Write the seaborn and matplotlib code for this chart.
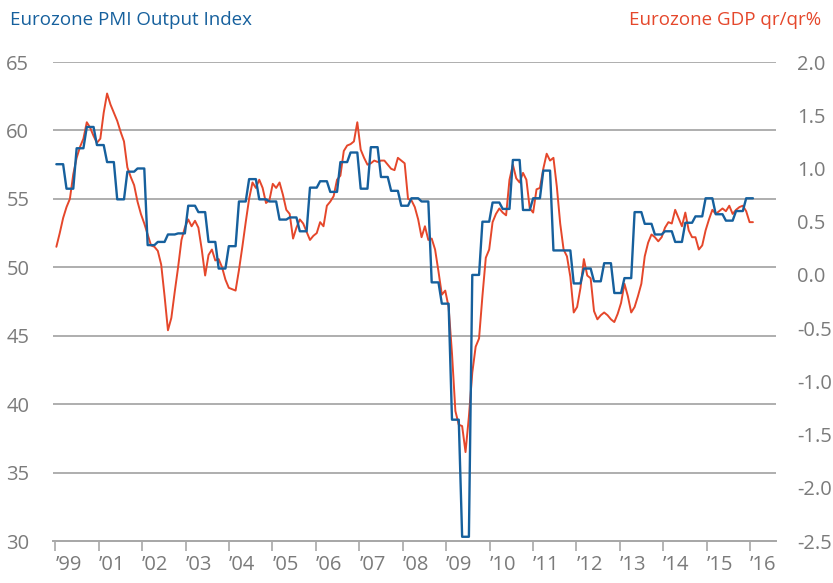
"""Eurozone PMI output index vs GDP q/q growth, 1999-2016."""

import matplotlib
matplotlib.use("Agg")
import matplotlib.pyplot as plt
import numpy as np
import pandas as pd
import seaborn as sns

# monthly PMI output index, Jan 1999 .. Mar 2016
pmi_output = [
    51.5, 52.5, 53.6, 54.4, 55.0, 56.8, 58.0, 58.8, 59.4, 60.6, 60.2, 59.6,
    59.1, 59.4, 61.3, 62.7, 61.9, 61.3, 60.7, 59.9, 59.2, 57.3, 56.6, 56.0,
    54.8, 53.9, 53.2, 52.4, 51.6, 51.5, 51.2, 50.2, 47.9, 45.4, 46.3, 48.2,
    50.0, 52.0, 52.9, 53.5, 53.0, 53.4, 52.9, 51.3, 49.4, 50.9, 51.3, 50.5,
    50.6, 50.0, 49.1, 48.5, 48.4, 48.3, 49.8, 51.5, 53.3, 55.0, 56.2, 55.8,
    56.4, 55.8, 54.7, 54.9, 56.1, 55.8, 56.2, 55.3, 54.2, 53.9, 52.1, 52.9,
    53.5, 53.2, 52.6, 52.0, 52.3, 52.5, 53.3, 53.0, 54.5, 54.8, 55.2, 56.4,
    56.7, 58.5, 58.9, 59.0, 59.2, 60.6, 58.6, 58.0, 57.5, 57.6, 57.8, 57.7,
    57.8, 57.8, 57.5, 57.2, 57.1, 58.0, 57.8, 57.6, 55.0, 54.9, 54.4, 53.5,
    52.2, 53.0, 52.0, 52.1, 51.3, 49.7, 48.0, 48.3, 47.1, 43.7, 39.5, 38.5,
    38.4, 36.5, 39.1, 42.3, 44.2, 44.8, 47.9, 50.7, 51.3, 53.3, 53.9, 54.3,
    54.0, 53.8, 56.4, 57.5, 56.5, 56.2, 56.9, 56.4, 54.3, 54.0, 55.7, 55.8,
    57.2, 58.3, 57.8, 58.0, 55.9, 53.2, 51.3, 50.8, 49.3, 46.7, 47.1, 48.5,
    50.6, 49.4, 49.2, 46.8, 46.2, 46.5, 46.7, 46.5, 46.2, 46.0, 46.6, 47.4,
    48.8, 47.9, 46.7, 47.1, 47.9, 48.8, 50.8, 51.8, 52.4, 52.2, 51.9, 52.2,
    52.9, 53.3, 53.2, 54.2, 53.6, 53.0, 54.0, 52.7, 52.2, 52.2, 51.3, 51.6,
    52.7, 53.5, 54.2, 53.9, 54.1, 54.3, 54.1, 54.5, 53.9, 54.2, 54.4, 54.5,
    54.1, 53.3, 53.3,
]

# quarterly GDP growth q/q %, Q1 1999 .. Q1 2016
gdp_qoq = [
    1.04, 0.81, 1.19, 1.39,
    1.22, 1.06, 0.71, 0.97,
    1.00, 0.28, 0.31, 0.38,
    0.39, 0.65, 0.59, 0.31,
    0.06, 0.27, 0.69, 0.90,
    0.71, 0.69, 0.52, 0.54,
    0.41, 0.82, 0.88, 0.78,
    1.06, 1.15, 0.81, 1.20,
    0.92, 0.79, 0.65, 0.72,
    0.69, -0.07, -0.27, -1.36,
    -2.46, 0.00, 0.50, 0.68,
    0.62, 1.08, 0.61, 0.72,
    0.98, 0.23, 0.23, -0.08,
    0.06, -0.06, 0.11, -0.17,
    -0.03, 0.59, 0.48, 0.38,
    0.41, 0.31, 0.49, 0.55,
    0.72, 0.57, 0.51, 0.60,
    0.72,
]

year_labels = ["’99", "’01", "’02", "’03", "’04", "’05", "’06", "’07", "’08",
               "’09", "’10", "’11", "’12", "’13", "’14", "’15", "’16"]
pmi_ticks = [30, 35, 40, 45, 50, 55, 60, 65]
gdp_ticks = [-2.5, -2.0, -1.5, -1.0, -0.5, 0.0, 0.5, 1.0, 1.5, 2.0]

BLUE = "#16609d"
RED = "#e5472b"
GRID = "#a8a8a8"
TICK_TXT = "#7b7b7b"

sns.set_theme(style="white")
plt.rcParams["font.family"] = ["Open Sans", "DejaVu Sans"]

df = pd.DataFrame({
    "month": np.arange(len(pmi_output)),
    "pmi": pmi_output,
    "gdp": np.repeat(gdp_qoq, 3),  # quarterly value held for each month
})

fig = plt.figure(figsize=(8.33, 5.83), dpi=100)
ax = fig.add_axes([0.0636, 0.072, 0.8679, 0.8216])
ax2 = ax.twinx()

sns.lineplot(data=df, x="month", y="pmi", ax=ax, color=RED, linewidth=1.4)
sns.lineplot(data=df, x="month", y="gdp", ax=ax2, color=BLUE, linewidth=1.7)

ax.set_xlim(-1.0, 212.8)
ax.set_ylim(30, 65)
ax2.set_ylim(-2.5, 2.0)

# x ticks: marks every ~12.8 months, labels sit a little to the right
tick_pos = [-0.3 + 12.84 * k for k in range(len(year_labels))]
ax.set_xticks(tick_pos, labels=[])
ax.set_xticks([p + 3.9 for p in tick_pos], labels=year_labels, minor=True)
ax.tick_params(axis="x", which="major", direction="out", length=7, width=1.2,
               color=GRID, bottom=True)
ax.tick_params(axis="x", which="minor", length=0, pad=10, labelsize=14.5,
               labelcolor=TICK_TXT)

ax.set_yticks(pmi_ticks, labels=[str(v) for v in pmi_ticks])
ax.tick_params(axis="y", length=0, pad=17, labelsize=14.5, labelcolor=TICK_TXT)
ax2.set_yticks(gdp_ticks, labels=[f"{v:.1f}" for v in gdp_ticks])
ax2.tick_params(axis="y", length=0, pad=15, labelsize=14.5, labelcolor=TICK_TXT)

ax.yaxis.grid(True, color=GRID, linewidth=1.3)
ax.set_axisbelow(True)
for a in (ax, ax2):
    a.set_xlabel("")
    a.set_ylabel("")
    for side in ("top", "left", "right"):
        a.spines[side].set_visible(False)
    a.spines["bottom"].set_color(GRID)
    a.spines["bottom"].set_linewidth(1.3)

fig.text(0.012, 0.966, "Eurozone PMI Output Index", color=BLUE, fontsize=13.5,
         ha="left", va="center")
fig.text(0.986, 0.966, "Eurozone GDP qr/qr%", color=RED, fontsize=13.5,
         ha="right", va="center")

fig.savefig("out.png", dpi=100)
